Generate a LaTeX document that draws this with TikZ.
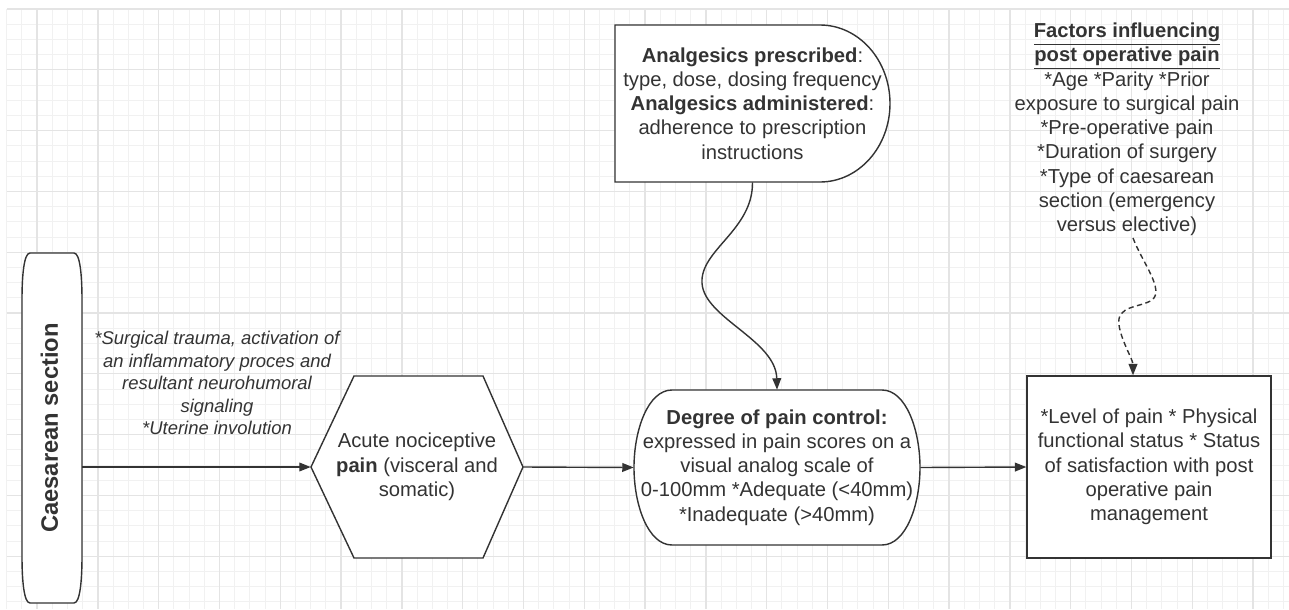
\documentclass[tikz,border=0pt]{standalone}
\usepackage{fontspec}
\setmainfont{Liberation Sans}
\usepackage{tikz}
\usetikzlibrary{arrows.meta}

\definecolor{ink}{HTML}{333333}
\definecolor{gridminor}{HTML}{F1F1F1}
\definecolor{gridmajor}{HTML}{E4E4E4}

\tikzset{
  outline/.style={draw=ink, line width=0.8pt, fill=white},
  box/.style={inner sep=0pt, align=center, text=ink, font=\fontsize{11.5}{13.8}\selectfont},
  arr/.style={draw=ink, line width=0.8pt, -{Triangle[length=6.5pt,width=5pt]}},
}

\begin{document}
\begin{tikzpicture}[x=0.02cm, y=-0.02cm]
    \useasboundingbox (0,0) rectangle (1289,609);

    % grid paper
    \foreach \k in {0,...,84}
      \draw[gridminor, line width=0.55pt] ({6.7+15.2*\k},9) -- ({6.7+15.2*\k},609);
    \foreach \k in {0,...,39}
      \draw[gridminor, line width=0.55pt] (6.7,{9+15.2*\k}) -- (1289,{9+15.2*\k});
    \foreach \k in {0,...,20}
      \draw[gridmajor, line width=0.7pt] ({37.1+60.8*\k},9) -- ({37.1+60.8*\k},609);
    \foreach \k in {0,...,9}
      \draw[gridmajor, line width=0.7pt] (6.7,{9+60.8*\k}) -- (1289,{9+60.8*\k});

    % outlines
    \draw[outline] (30,253) -- (74,253) .. controls (80,253) and (82,275) .. (82,300) -- (82,556)
      .. controls (82,581) and (80,603) .. (74,603) -- (30,603) .. controls (24,603) and (22,581) .. (22,556)
      -- (22,300) .. controls (22,275) and (24,253) .. (30,253) -- cycle;
    \draw[outline] (311,467) -- (354,376) -- (483,376) -- (523,467) -- (483,558) -- (354,558) -- cycle;
    \draw[outline] (672,390) -- (882,390) .. controls (906,390) and (920,430) .. (920,467.5)
      .. controls (920,505) and (906,545) .. (882,545) -- (672,545) .. controls (648,545) and (634,505) .. (634,467.5)
      .. controls (634,430) and (648,390) .. (672,390) -- cycle;
    \draw[outline] (615,25) -- (820,25) .. controls (858.7,25) and (890,60.1) .. (890,103.5)
      .. controls (890,146.9) and (858.7,182) .. (820,182) -- (615,182) -- cycle;

    % nodes
    \node[box, minimum width=1.2cm, minimum height=7cm] (cs) at (52,428)
      {\rotatebox{90}{\raisebox{0.11cm}{\fontsize{13.5}{16}\selectfont\bfseries Caesarean section}}};
    \node[box, font=\fontsize{10.5}{12.8}\selectfont\itshape] (trauma) at (217,383)
      {*Surgical trauma, activation of\\ an inflammatory proces and\\ resultant neurohumoral\\ signaling\\ *Uterine involution};
    \node[box, minimum width=4.24cm, minimum height=3.66cm] (hex) at (417,467)
      {Acute nociceptive\\ \textbf{pain} (visceral and\\ somatic)};
    \node[box, minimum width=5.72cm, minimum height=3.1cm] (deg) at (777,467.5)
      {\textbf{Degree of pain control:}\\ expressed in pain scores on a\\ visual analog scale of\\ 0-100mm *Adequate (<40mm)\\ *Inadequate (>40mm)};
    \node[box, minimum width=5.5cm, minimum height=3.14cm] (an) at (752.5,103.5)
      {\textbf{Analgesics prescribed}:\\ type, dose, dosing frequency\\ \textbf{Analgesics administered}:\\ adherence to prescription\\ instructions};
    \node[box, draw=ink, line width=0.8pt, fill=white, minimum width=4.88cm, minimum height=3.64cm] (lvl) at (1149,467)
      {*Level of pain * Physical\\ functional status * Status\\ of satisfaction with post\\ operative pain\\ management};
    \node[box] (fac) at (1127,129.5)
      {\underline{\textbf{Factors influencing}}\\ \underline{\textbf{post operative pain}}\\ *Age *Parity *Prior\\ exposure to surgical pain\\ *Pre-operative pain\\ *Duration of surgery\\ *Type of caesarean\\ section (emergency\\ versus elective)};
    \coordinate (facOut) at (1133,238);

    % connectors
    \draw[arr] (cs.east |- hex.west) -- (hex.west);
    \draw[arr] (hex.east) -- (deg.west);
    \draw[arr] (deg.east) -- (lvl.west);
    \draw[arr] (an.south) .. controls (753,230) and (700,250) .. (702,283)
      .. controls (704,318) and (776,340) .. (deg.north);
    \draw[arr, dash pattern=on 3pt off 2pt] (facOut) .. controls (1142,262) and (1165,290) .. (1152,300)
      .. controls (1140,308) and (1116,305) .. (1119,325) .. controls (1121,340) and (1133,360) .. (lvl.north -| facOut);
\end{tikzpicture}
\end{document}
